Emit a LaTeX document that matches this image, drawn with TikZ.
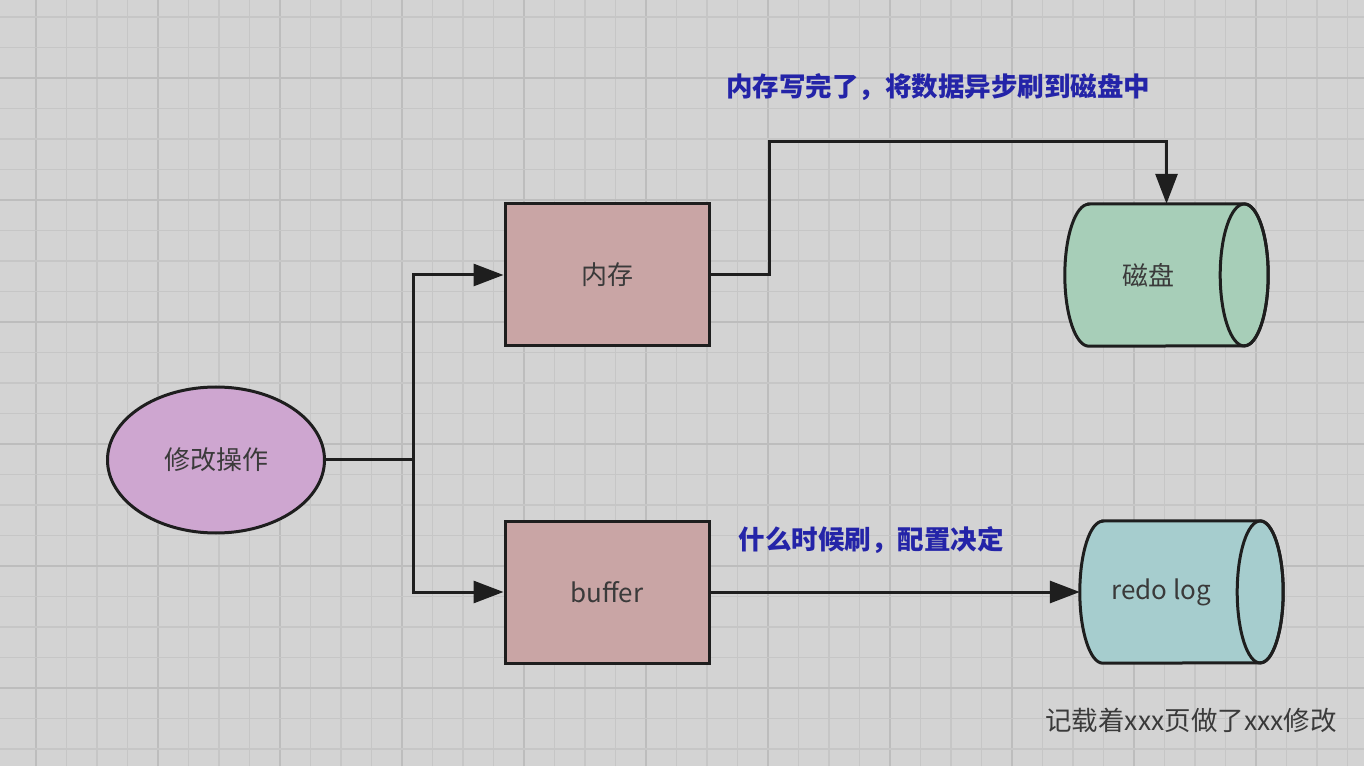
\documentclass[tikz,border=0pt]{standalone}
\usepackage{fontspec}
\setmainfont{Noto Sans CJK SC}
\newfontfamily\cjk{Noto Sans CJK SC}
\usetikzlibrary{arrows.meta,shapes.geometric}
\definecolor{bgc}{HTML}{D3D3D3}
\definecolor{gridc}{HTML}{C6C6C6}
\definecolor{gridm}{HTML}{BDBDBD}
\definecolor{opfill}{HTML}{CEA6D0}
\definecolor{boxfill}{HTML}{C9A5A5}
\definecolor{diskfill}{HTML}{A7CEB8}
\definecolor{redofill}{HTML}{A6CDCE}
\definecolor{edgec}{HTML}{1E1E1E}
\definecolor{bluetxt}{HTML}{2424A8}
\definecolor{txtc}{HTML}{3A3A3A}
\tikzset{
  nodetext/.style={font=\cjk\fontsize{26}{30}\selectfont, text=txtc},
  boxnode/.style={draw=edgec, line width=3pt, fill=boxfill, minimum width=204pt, minimum height=142pt, nodetext},
  opnode/.style={ellipse, draw=edgec, line width=3pt, fill=opfill, minimum width=217pt, minimum height=146pt, inner sep=0pt, nodetext},
  cylbox/.style={minimum width=203pt, minimum height=142pt, inner sep=0pt, nodetext},
  conn/.style={draw=edgec, line width=3pt, -{Triangle[length=30pt,width=22pt]}},
  link/.style={draw=edgec, line width=3pt},
  bluelabel/.style={font=\cjk\bfseries\fontsize{26.5}{30}\selectfont, text=bluetxt},
  notelabel/.style={font=\cjk\fontsize{26.5}{30}\selectfont, text=txtc},
}
\newcommand{\cylpath}[3]{% node name, fill colour, end x radius
  \path[draw=edgec, line width=3pt, fill=#2]
    ([xshift=#3pt]#1.north west) -- ([xshift=-#3pt]#1.north east)
    arc[start angle=90, end angle=-90, x radius=#3pt, y radius=71pt]
    -- ([xshift=#3pt]#1.south west)
    arc[start angle=270, end angle=90, x radius=#3pt, y radius=71pt] -- cycle;
  \draw[edgec, line width=3pt] ([xshift=-#3pt]#1.east) ellipse[x radius=#3pt, y radius=71pt];
}
\begin{document}
\begin{tikzpicture}[x=1pt,y=1pt]
\useasboundingbox (0,0) rectangle (1364,766);
\fill[bgc] (0,0) rectangle (1364,766);
\foreach \k in {0,...,44} {
  \pgfmathsetmacro{\xx}{36+30.5*\k}
  \pgfmathtruncatemacro{\m}{mod(\k,4)}
  \ifnum\m=0 \draw[gridm, line width=1.4pt] (\xx,0) -- (\xx,766);
  \else \draw[gridc, line width=1.2pt] (\xx,0) -- (\xx,766); \fi
}
\foreach \k in {0,...,25} {
  \pgfmathsetmacro{\yy}{766-17-30.5*\k}
  \pgfmathtruncatemacro{\m}{mod(\k,4)}
  \ifnum\m=2 \draw[gridm, line width=1.4pt] (0,\yy) -- (1364,\yy);
  \else \draw[gridc, line width=1.2pt] (0,\yy) -- (1364,\yy); \fi
}

% nodes
\node[opnode] (op) at (216,306) {修改操作};
\node[boxnode] (mem) at (607,491) {内存};
\node[boxnode] (buf) at (607,174) {buffer};
\node[cylbox] (disk) at (1166.5,491) {};
\node[cylbox, minimum height=142pt] (redo) at (1181.5,174) {};
\cylpath{disk}{diskfill}{24}
\cylpath{redo}{redofill}{23}
\node[nodetext] (disklabel) at ([xshift=-18pt]disk.center) {磁盘};
\node[nodetext] (redolabel) at ([xshift=-20pt]redo.center) {redo log};

% connectors
\coordinate (split) at (413,306);
\coordinate (mid) at (769,624);
\draw[link] (op.east) -- (split);
\draw[conn] (split) |- (mem.west);
\draw[conn] (split) |- (buf.west);
\draw[conn] (mem.east) -| (mid) -| (disk.north);
\draw[conn] (buf.east) -- (redo.west);

% labels
\node[bluelabel] (l1) at (938,679) {内存写完了，将数据异步刷到磁盘中};
\node[bluelabel] (l2) at (871,226) {什么时候刷，配置决定};
\node[notelabel] (l3) at (1191,46) {记载着xxx页做了xxx修改};
\end{tikzpicture}
\end{document}
